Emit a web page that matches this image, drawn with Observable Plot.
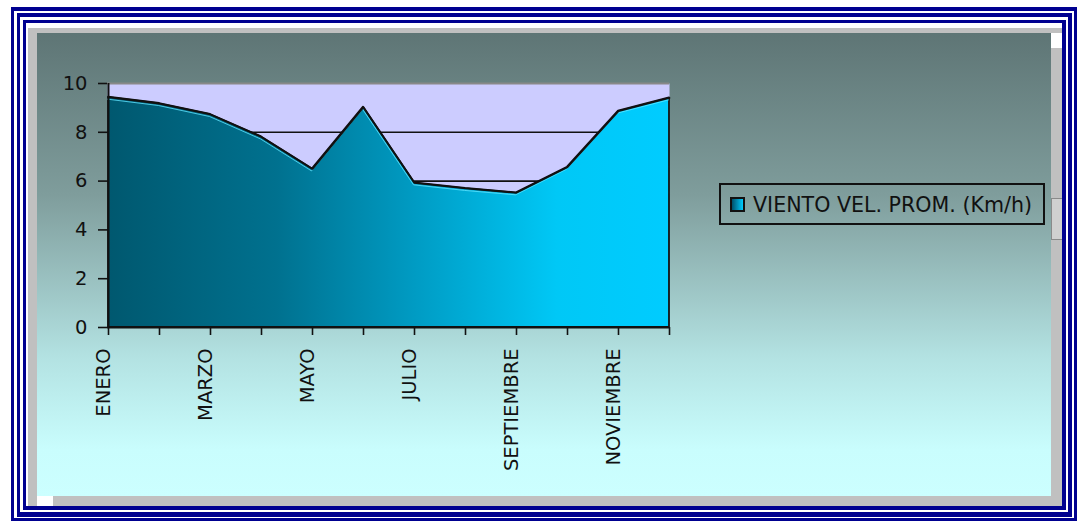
<!DOCTYPE html>
<html>
<head>
<meta charset="utf-8">
<script src="https://cdn.jsdelivr.net/npm/d3@7"></script>
<script src="https://cdn.jsdelivr.net/npm/@observablehq/plot@0.6"></script>
<style>
  html, body { margin: 0; padding: 0; background: #fff; }
  body { width: 1077px; height: 531px; position: relative; overflow: hidden; font-family: "DejaVu Sans", sans-serif; }
  .box { position: absolute; box-sizing: border-box; }
  .navy { border: 3px solid #000090; }
  #chartArea {
    position: absolute; left: 37px; top: 33px; width: 1014px; height: 463px;
    background: linear-gradient(to bottom, #5e7575 0%, #7f9d9c 35%, #b3e2e2 70%, #c9fdfd 90%, #ccffff 100%);
  }
  #chartArea svg { position: absolute; left: 0; top: 0; }
  #legend {
    position: absolute; left: 682px; top: 150px; width: 326px; height: 42px;
    box-sizing: border-box; border: 2px solid #111;
    font-size: 20.6px; color: #111; line-height: 38px; white-space: nowrap;
  }
  #legend .swatch {
    position: absolute; left: 9px; top: 12px; width: 15px; height: 15px; box-sizing: border-box;
    border: 2px solid #111; background: linear-gradient(to right, #00506a, #00ccff);
  }
  #legend .label { position: absolute; left: 32px; top: 1px; }
</style>
</head>
<body>
<!-- decorative page frame -->
<div class="box navy" style="left:11px;top:7px;width:1066px;height:514px;border-width:4px 3px 3px 3px;"></div>
<div class="box navy" style="left:17px;top:13px;width:1055px;height:504px;border-width:4px 4px 5px 3px;"></div>
<div class="box navy" style="left:23px;top:20px;width:1043px;height:490px;border-width:3px 4px 4px 3px;"></div>
<div class="box" style="left:28px;top:28px;width:1034px;height:478px;background:#c0c0c0;"></div>
<div class="box" style="left:37px;top:496px;width:16px;height:10px;background:#fff;"></div>
<div class="box" style="left:1051px;top:33px;width:11px;height:15px;background:#fff;"></div>
<div class="box" style="left:1051px;top:198px;width:11px;height:42px;border:1px solid #8a8a8a;border-right:none;background:#d0d0d0;"></div>

<div id="chartArea">
  <div id="legend"><div class="swatch"></div><div class="label">VIENTO VEL. PROM. (Km/h)</div></div>
</div>

<script>
// Average monthly wind speed (km/h)
const months = ["ENERO", "FEBRERO", "MARZO", "ABRIL", "MAYO", "JUNIO",
                "JULIO", "AGOSTO", "SEPTIEMBRE", "OCTUBRE", "NOVIEMBRE", "DICIEMBRE"];
const windSpeed = [9.44, 9.18, 8.73, 7.81, 6.50, 9.03, 5.93, 5.70, 5.52, 6.57, 8.87, 9.41];
const yTicks = [0, 2, 4, 6, 8, 10];

const data = months.map((m, i) => ({month: m, value: windSpeed[i]}));

const chart = Plot.plot({
  width: 1014,
  height: 463,
  marginLeft: 70,
  marginRight: 382,
  marginTop: 50,
  marginBottom: 169,
  style: {background: "transparent", fontFamily: "DejaVu Sans, sans-serif", color: "#111", overflow: "visible"},
  x: {type: "point", domain: months, padding: 0},
  y: {domain: [0, 10], ticks: yTicks},
  marks: [
    Plot.frame({fill: "#ccccff", stroke: null}),
    Plot.ruleY(yTicks.filter(t => t > 0 && t < 10), {stroke: "#111", strokeWidth: 1.6}),
    Plot.ruleY([10], {stroke: "#888", strokeWidth: 2}),
    Plot.areaY(data, {x: "month", y: "value", fill: "url(#windFill)", stroke: "#111", strokeWidth: 1.8, strokeLinejoin: "round"}),
    Plot.lineY(data, {x: "month", y: "value", stroke: "#5fe3ff", strokeWidth: 1, dy: 2, dx: -1, strokeOpacity: 0.8}),
    Plot.lineY(data, {x: "month", y: "value", stroke: "#111", strokeWidth: 1.8}),
    Plot.ruleX([months[0]], {y1: 0, y2: 10, stroke: "#111", strokeWidth: 2}),
    Plot.ruleY([0], {stroke: "#111", strokeWidth: 2}),
    Plot.axisY({ticks: yTicks, tickSize: 9, tickPadding: 11, fontSize: 19.5, label: null, stroke: "#111", strokeWidth: 1.6}),
    // month tick marks
    Plot.axisX({tickSize: 8, tickFormat: () => "", label: null, stroke: "#111", strokeWidth: 1.6}),
    // month labels, every other month
    Plot.axisX({
      tickSize: 0, tickPadding: 21, tickRotate: -90, fontSize: 19.5, label: null, dx: -5,
      tickFormat: (d, i) => (i % 2 === 0 ? d : "")
    })
  ]
});

// horizontal gradient for the filled area
const defs = d3.select(chart).insert("defs", ":first-child");
const grad = defs.append("linearGradient").attr("id", "windFill")
  .attr("x1", "0%").attr("x2", "100%").attr("y1", "0%").attr("y2", "0%");
[[0, "#00586f"], [0.3, "#00718f"], [0.55, "#009cc4"], [0.8, "#00c8f6"], [1, "#00ccff"]]
  .forEach(([o, c]) => grad.append("stop").attr("offset", o).attr("stop-color", c));

document.getElementById("chartArea").prepend(chart);
</script>
</body>
</html>
